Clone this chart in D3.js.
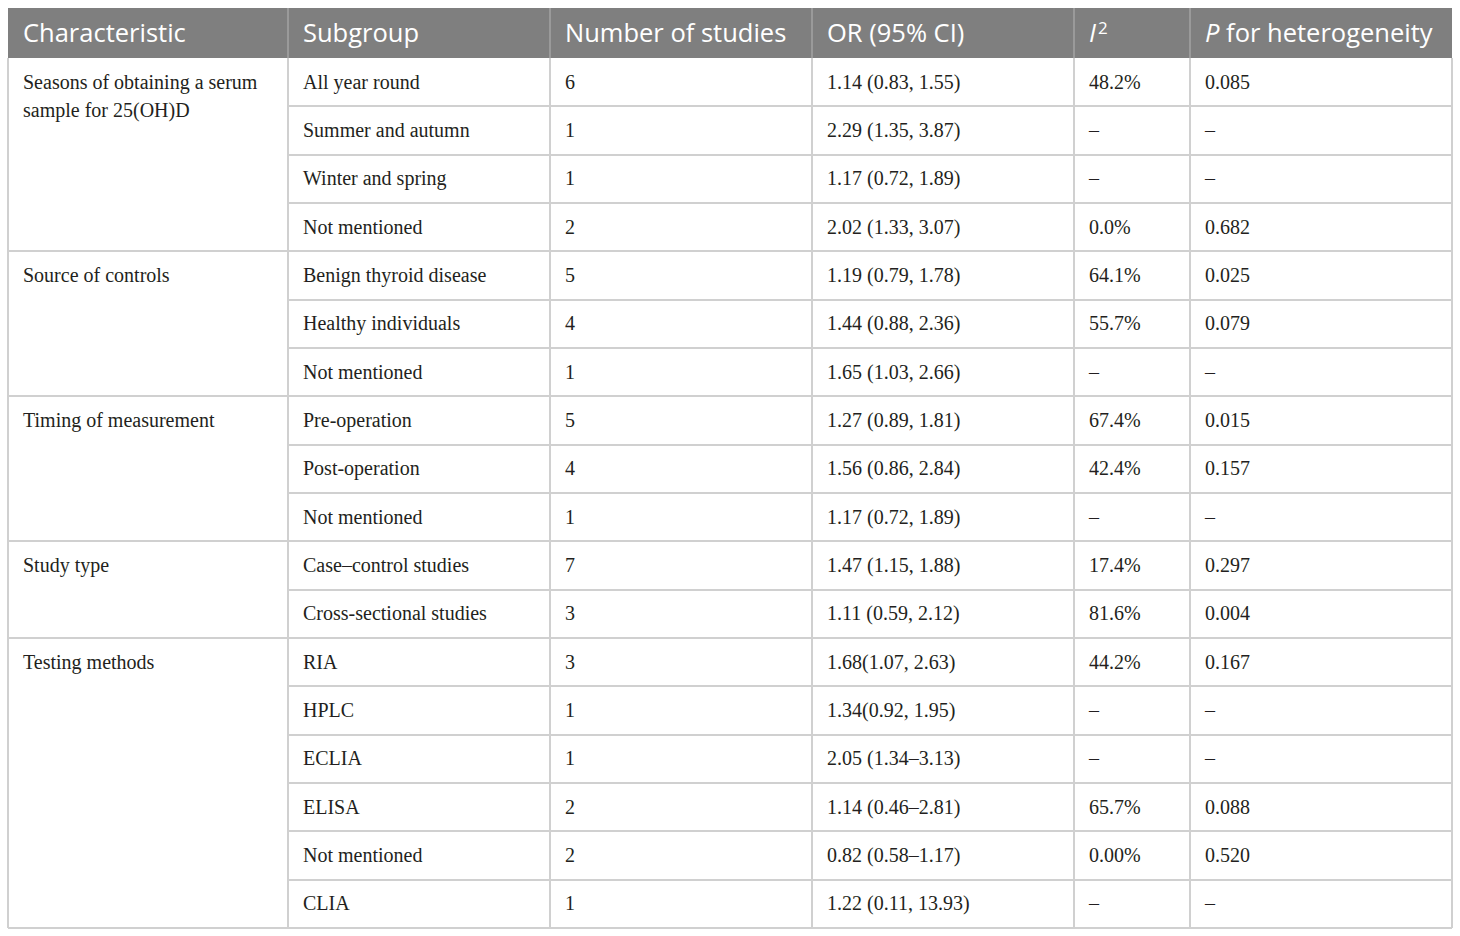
<!DOCTYPE html>
<html>
<head>
<meta charset="utf-8">
<title>Subgroup analysis table</title>
<script src="https://d3js.org/d3.v7.min.js"></script>
<style>
 body { margin: 0; background: #fff; }
 .hdr { font-family: "Open Sans", "Noto Sans", sans-serif; font-size: 25.5px; fill: #fff; }
 .cell { font-family: "Liberation Serif", "Times New Roman", serif; font-size: 20px; fill: #231f20; }
 .grid { stroke: #d0d0d0; stroke-width: 2; shape-rendering: crispEdges; }
</style>
</head>
<body>
<svg id="tbl"></svg>
<script>
// table content
var headers = ["Characteristic", "Subgroup", "Number of studies", "OR (95% CI)", "I2", "P for heterogeneity"];
var groups = [["Seasons of obtaining a serum", "sample for 25(OH)D"], ["Source of controls"], ["Timing of measurement"], ["Study type"], ["Testing methods"]];
var groupSizes = [4, 3, 3, 2, 6];
var subgroups = ["All year round", "Summer and autumn", "Winter and spring", "Not mentioned",
                 "Benign thyroid disease", "Healthy individuals", "Not mentioned",
                 "Pre-operation", "Post-operation", "Not mentioned",
                 "Case\u2013control studies", "Cross-sectional studies",
                 "RIA", "HPLC", "ECLIA", "ELISA", "Not mentioned", "CLIA"];
var nStudies = ["6", "1", "1", "2", "5", "4", "1", "5", "4", "1", "7", "3", "3", "1", "1", "2", "2", "1"];
var orCI = ["1.14 (0.83, 1.55)", "2.29 (1.35, 3.87)", "1.17 (0.72, 1.89)", "2.02 (1.33, 3.07)",
            "1.19 (0.79, 1.78)", "1.44 (0.88, 2.36)", "1.65 (1.03, 2.66)",
            "1.27 (0.89, 1.81)", "1.56 (0.86, 2.84)", "1.17 (0.72, 1.89)",
            "1.47 (1.15, 1.88)", "1.11 (0.59, 2.12)",
            "1.68(1.07, 2.63)", "1.34(0.92, 1.95)", "2.05 (1.34\u20133.13)", "1.14 (0.46\u20132.81)",
            "0.82 (0.58\u20131.17)", "1.22 (0.11, 13.93)"];
var i2 = ["48.2%", "\u2013", "\u2013", "0.0%", "64.1%", "55.7%", "\u2013", "67.4%", "42.4%", "\u2013",
          "17.4%", "81.6%", "44.2%", "\u2013", "\u2013", "65.7%", "0.00%", "\u2013"];
var pHet = ["0.085", "\u2013", "\u2013", "0.682", "0.025", "0.079", "\u2013", "0.015", "0.157", "\u2013",
            "0.297", "0.004", "0.167", "\u2013", "\u2013", "0.088", "0.520", "\u2013"];

// layout
var W = 1460, H = 936;
var colEdges = [8, 288, 550, 812, 1074, 1190, 1452];
var headTop = 8, headBottom = 58, tableBottom = 928;
var padX = 15;

var svg = d3.select("#tbl").attr("width", W).attr("height", H);

var y = d3.scaleBand()
          .domain(d3.range(subgroups.length))
          .range([headBottom, tableBottom]);

// header band
svg.append("rect")
   .attr("x", colEdges[0]).attr("y", headTop)
   .attr("width", colEdges[6] - colEdges[0]).attr("height", headBottom - headTop)
   .attr("fill", "#7f7f7f");

// header separators
svg.selectAll(".hsep")
   .data(colEdges.slice(1, 6))
   .enter().append("line")
   .attr("x1", function(d) { return d; }).attr("x2", function(d) { return d; })
   .attr("y1", headTop).attr("y2", headBottom)
   .attr("stroke", "#a3a3a3").attr("stroke-width", 1.5);

var hText = svg.selectAll(".hdr")
   .data(headers)
   .enter().append("text")
   .attr("class", "hdr")
   .attr("x", function(d, i) { return colEdges[i] + padX; })
   .attr("y", (headTop + headBottom) / 2)
   .attr("dy", "0.36em");
hText.each(function(d) {
  var t = d3.select(this);
  if (d == "I2") {
    t.append("tspan").style("font-style", "italic").text("I");
    t.append("tspan").attr("dx", "2").attr("dy", "-0.5em").style("font-size", "17px").text("2");
  } else if (d.indexOf("P ") == 0) {
    t.append("tspan").style("font-style", "italic").text("P");
    t.append("tspan").text(d.slice(1));
  } else {
    t.text(d);
  }
});

// group starts
var starts = [];
var acc = 0;
groupSizes.forEach(function(n) { starts.push(acc); acc += n; });

// horizontal rules, per row for columns 2-6
svg.selectAll(".rowline")
   .data(d3.range(1, subgroups.length))
   .enter().append("line")
   .attr("class", "grid")
   .attr("x1", function(i) { return starts.indexOf(i) >= 0 ? colEdges[0] : colEdges[1]; })
   .attr("x2", colEdges[6])
   .attr("y1", function(i) { return Math.round(y(i)); })
   .attr("y2", function(i) { return Math.round(y(i)); });

svg.append("line").attr("class", "grid")
   .attr("x1", colEdges[0]).attr("x2", colEdges[6])
   .attr("y1", tableBottom).attr("y2", tableBottom)
   .attr("stroke-width", 3);

// vertical rules
svg.selectAll(".colline")
   .data(colEdges)
   .enter().append("line")
   .attr("class", "grid")
   .attr("x1", function(d) { return d; }).attr("x2", function(d) { return d; })
   .attr("y1", headBottom).attr("y2", tableBottom);

// cell text
var columns = [subgroups, nStudies, orCI, i2, pHet];
columns.forEach(function(col, c) {
  svg.selectAll(".c" + c)
     .data(col)
     .enter().append("text")
     .attr("class", "cell")
     .attr("x", colEdges[c + 1] + padX)
     .attr("y", function(d, i) { return y(i) + y.bandwidth() / 2; })
     .attr("dy", "0.33em")
     .text(function(d) { return d; });
});

// group labels
svg.selectAll(".grp")
   .data(groups)
   .enter().append("text")
   .attr("class", "cell")
   .attr("x", colEdges[0] + padX)
   .attr("y", function(d, g) { return y(starts[g]) + y.bandwidth() / 2; })
   .each(function(lines) {
     var t = d3.select(this);
     lines.forEach(function(l, k) {
       t.append("tspan")
        .attr("x", colEdges[0] + padX)
        .attr("dy", k == 0 ? "0.33em" : "1.4em")
        .text(l);
     });
   });
</script>
</body>
</html>
